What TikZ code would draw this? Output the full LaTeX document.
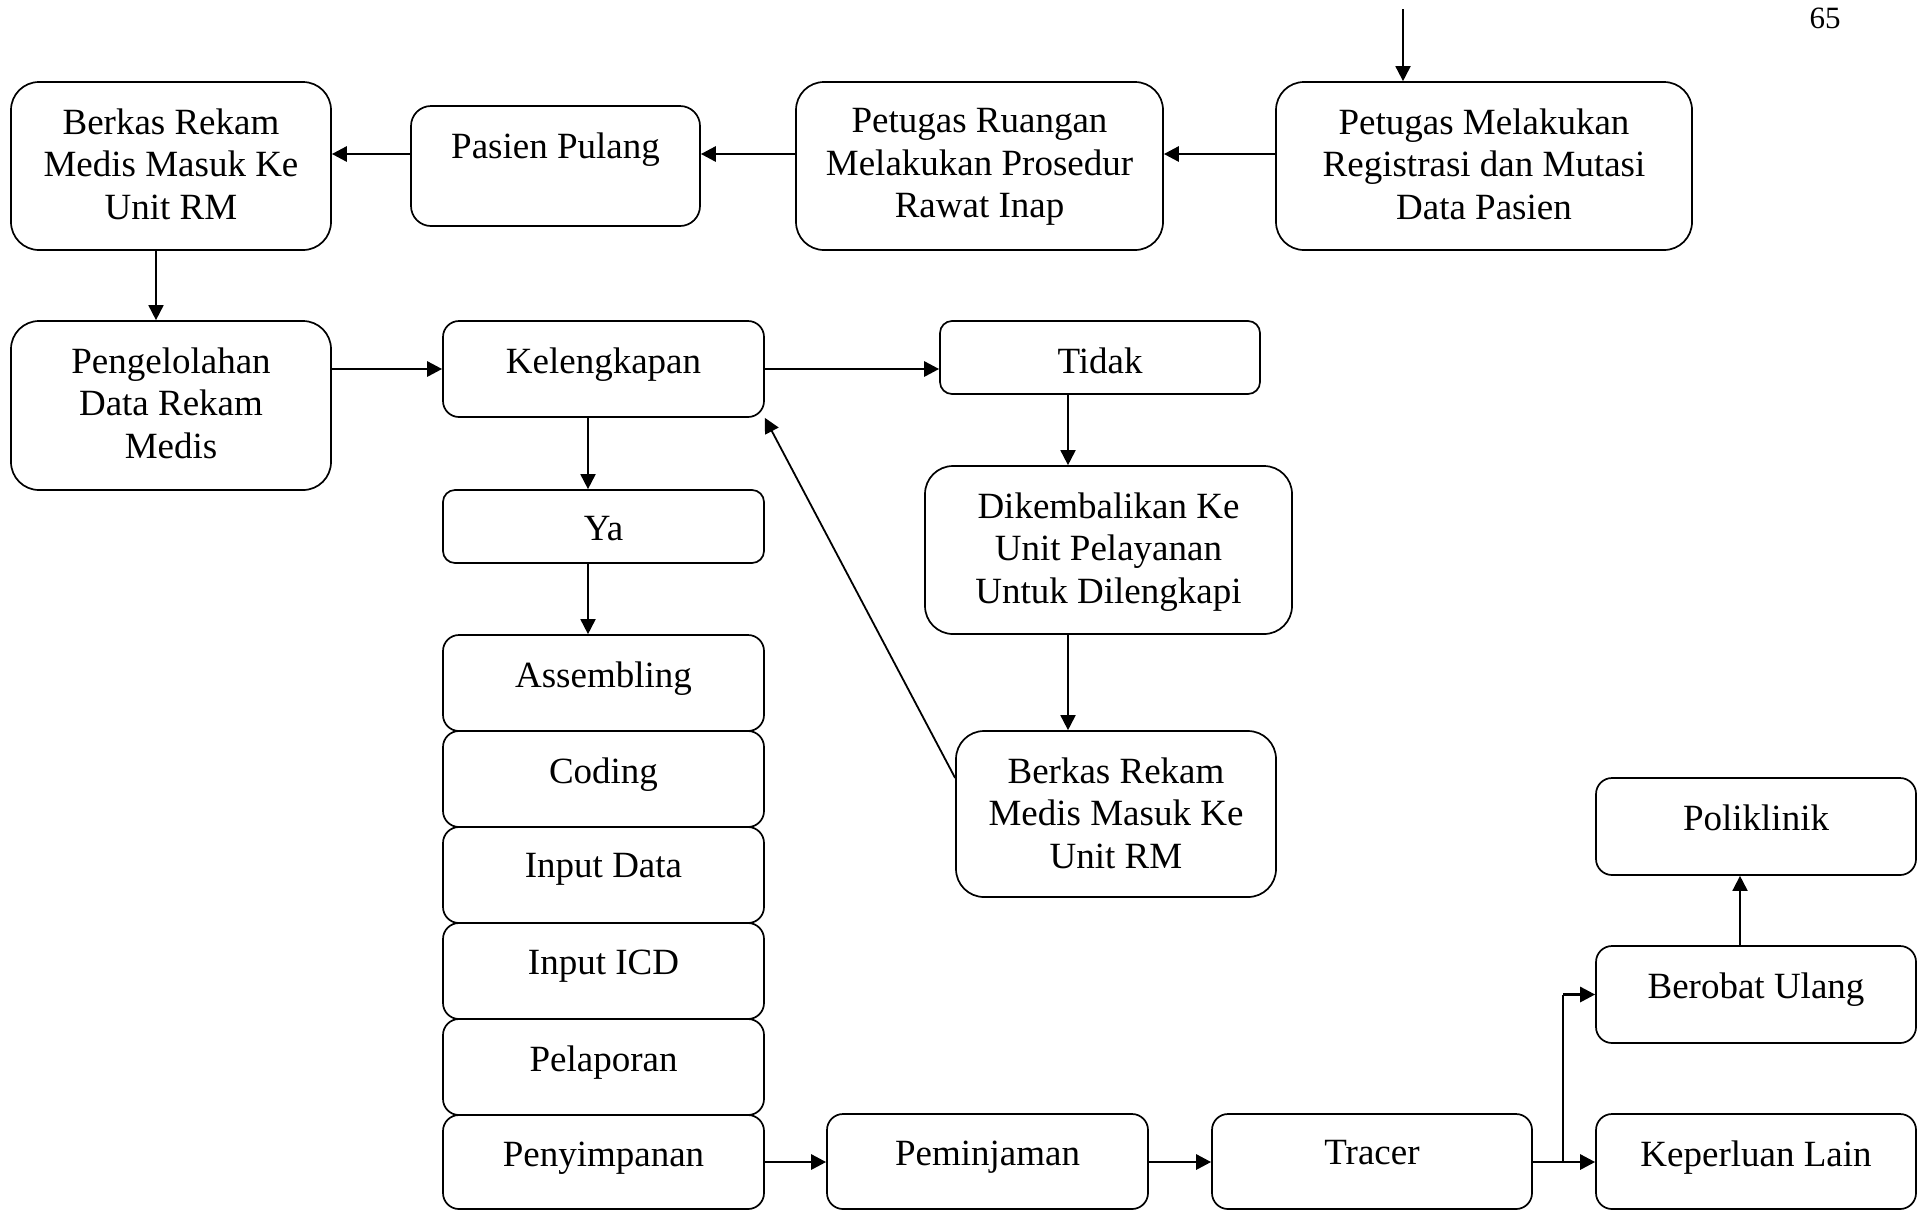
\documentclass[tikz,border=0pt]{standalone}
\usepackage{fontspec}
\setmainfont{Liberation Serif}
\usetikzlibrary{arrows.meta}
\begin{document}
\begin{tikzpicture}[x=0.5pt,y=-0.5pt,
  box/.style={draw, line width=0.85pt, rectangle, inner sep=0pt},
  bigbox/.style={box, rounded corners=14pt, minimum height=84pt},
  midbox/.style={box, rounded corners=8pt, minimum height=48pt},
  smallbox/.style={box, rounded corners=6pt, minimum height=36.5pt},
  txt/.style={anchor=north, inner sep=0pt, align=center, font=\fontsize{18.5}{21.25}\selectfont},
  thinarrow/.style={line width=0.9pt, -{Triangle[length=7.5pt,width=7.5pt]}},
  thickarrow/.style={line width=1.4pt, -{Triangle[length=7.5pt,width=7.5pt]}},
  thinline/.style={line width=0.9pt},
]
\useasboundingbox (0,0) rectangle (1925,1211);

% page number
\node[anchor=base, inner sep=0pt, font=\fontsize{15.5}{18}\selectfont] (pg) at (1825,28) {65};

% boxes
\node[bigbox, minimum width=160pt] (A) at (171,166) {};
\node[box, rounded corners=10pt, minimum width=144.5pt, minimum height=60pt] (B) at (555.5,166) {};
\node[bigbox, minimum width=183.5pt] (C) at (979.5,166) {};
\node[bigbox, minimum width=208pt] (D) at (1484,166) {};
\node[bigbox, minimum width=160pt, minimum height=84.5pt] (E) at (171,405.5) {};
\node[midbox, minimum width=160.5pt] (F) at (603.5,369) {};
\node[smallbox, minimum width=160pt] (G) at (1100,357.5) {};
\node[bigbox, minimum width=183.5pt] (H) at (1108.5,550) {};
\node[smallbox, minimum width=160.5pt] (I) at (603.5,526.5) {};
\node[midbox, minimum width=160.5pt] (S1) at (603.5,683) {};
\node[midbox, minimum width=160.5pt] (S2) at (603.5,779) {};
\node[midbox, minimum width=160.5pt] (S3) at (603.5,875) {};
\node[midbox, minimum width=160.5pt] (S4) at (603.5,971) {};
\node[midbox, minimum width=160.5pt] (S5) at (603.5,1067) {};
\node[midbox, minimum width=160.5pt, minimum height=47pt] (S6) at (603.5,1162) {};
\node[bigbox, minimum width=160pt, minimum height=83pt] (J) at (1116,814) {};
\node[midbox, minimum width=160pt, minimum height=48.5pt] (K) at (1756,826.5) {};
\node[midbox, minimum width=160pt, minimum height=48.5pt] (L) at (1756,994.5) {};
\node[midbox, minimum width=160pt, minimum height=47.5pt] (M) at (1756,1161.5) {};
\node[midbox, minimum width=160pt, minimum height=47.5pt] (N) at (1372,1161.5) {};
\node[midbox, minimum width=160.5pt, minimum height=47.5pt] (P) at (987.5,1161.5) {};

% texts
\node[txt] (tA) at ([yshift=-13.5pt]A.north) {Berkas Rekam\\Medis Masuk Ke\\Unit RM};
\node[txt] (tB) at ([yshift=-13.5pt]B.north) {Pasien Pulang};
\node[txt] (tC) at ([yshift=-13.5pt]C.north) {Petugas Ruangan\\Melakukan Prosedur\\Rawat Inap};
\node[txt] (tD) at ([yshift=-13.5pt]D.north) {Petugas Melakukan\\Registrasi dan Mutasi\\Data Pasien};
\node[txt] (tE) at ([yshift=-13.5pt]E.north) {Pengelolahan\\Data Rekam\\Medis};
\node[txt] (tF) at ([yshift=-13.5pt]F.north) {Kelengkapan};
\node[txt] (tG) at ([yshift=-13.5pt]G.north) {Tidak};
\node[txt] (tH) at ([yshift=-13.5pt]H.north) {Dikembalikan Ke\\Unit Pelayanan\\Untuk Dilengkapi};
\node[txt] (tI) at ([yshift=-13.5pt]I.north) {Ya};
\node[txt] (tS1) at ([yshift=-13.5pt]S1.north) {Assembling};
\node[txt] (tS2) at ([yshift=-13.5pt]S2.north) {Coding};
\node[txt] (tS3) at ([yshift=-13.5pt]S3.north) {Input Data};
\node[txt] (tS4) at ([yshift=-13.5pt]S4.north) {Input ICD};
\node[txt] (tS5) at ([yshift=-13.5pt]S5.north) {Pelaporan};
\node[txt] (tS6) at ([yshift=-13.5pt]S6.north) {Penyimpanan};
\node[txt] (tJ) at ([yshift=-13.5pt]J.north) {Berkas Rekam\\Medis Masuk Ke\\Unit RM};
\node[txt] (tK) at ([yshift=-13.5pt]K.north) {Poliklinik};
\node[txt] (tL) at ([yshift=-13.5pt]L.north) {Berobat Ulang};
\node[txt] (tM) at ([yshift=-13.5pt]M.north) {Keperluan Lain};
\node[txt] (tN) at ([yshift=-13.5pt]N.north) {Tracer};
\node[txt] (tP) at ([yshift=-13.5pt]P.north) {Peminjaman};

% helper coordinates
\coordinate (topin) at (1403,9);
\coordinate (ytop) at (0,154);
\coordinate (xa) at (156,0);
\coordinate (ymid) at (0,369);
\coordinate (xg) at (1068,0);
\coordinate (xf) at (588,0);
\coordinate (xl) at (1740,0);
\coordinate (jdiag) at (0,778);
\coordinate (br) at (1563,1162);

% connectors
\draw[thinarrow] (topin) -- (topin |- D.north);
\draw[thickarrow] (D.west |- ytop) -- (C.east |- ytop);
\draw[thickarrow] (C.west |- ytop) -- (B.east |- ytop);
\draw[thickarrow] (B.west |- ytop) -- (A.east |- ytop);
\draw[thinarrow] (A.south -| xa) -- (E.north -| xa);
\draw[thickarrow] (E.east |- ymid) -- (F.west |- ymid);
\draw[thickarrow] (F.east |- ymid) -- (G.west |- ymid);
\draw[thinarrow] (G.south -| xg) -- (H.north -| xg);
\draw[thinarrow] (H.south -| xg) -- (J.north -| xg);
\draw[thinarrow] (J.west |- jdiag) -- (F.south east);
\draw[thinarrow] (F.south -| xf) -- (I.north -| xf);
\draw[thinarrow] (I.south -| xf) -- (S1.north -| xf);
\draw[thickarrow] (S6.east |- br) -- (P.west |- br);
\draw[thickarrow] (P.east |- br) -- (N.west |- br);
\draw[thickarrow] (N.east |- br) -- (M.west |- br);
\draw[thinline] (br) -- (br |- L.west);
\draw[thickarrow] (br |- L.west) -- (L.west);
\draw[thinarrow] (L.north -| xl) -- (K.south -| xl);
\end{tikzpicture}
\end{document}
